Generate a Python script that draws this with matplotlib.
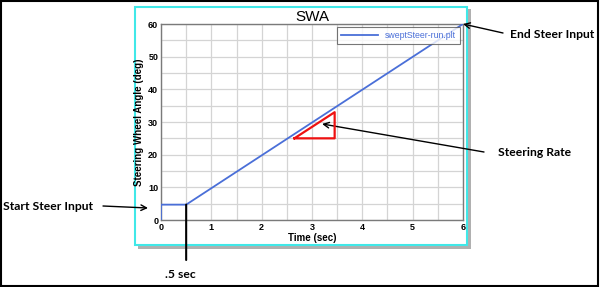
import matplotlib.pyplot as plt
from matplotlib.patches import Rectangle

# steering wheel angle trace
time_s = [0.0, 0.0, 0.5, 6.0]
swa_deg = [0.0, 4.7, 4.7, 60.0]

# steering rate triangle
tri_t = [2.65, 3.45, 3.45, 2.65]
tri_deg = [25.0, 25.0, 33.0, 25.0]

x_ticks = [0, 1, 2, 3, 4, 5, 6]
y_ticks = [0, 10, 20, 30, 40, 50, 60]

plt.rcParams['font.family'] = ['Liberation Sans', 'DejaVu Sans']

fig = plt.figure(figsize=(6.0, 2.87), dpi=100)
W, H = 600.0, 287.0

# outer frame, shadowed plot panel
fig.patches.append(Rectangle((0.002, 0.003), 0.995, 0.993, transform=fig.transFigure,
                             fill=False, ec='black', lw=1.5, zorder=-2))
fig.patches.append(Rectangle((138 / W, 1 - 249 / H), 333 / W, 240 / H, transform=fig.transFigure,
                             fc='#b0b0b0', ec='none', zorder=-2))
fig.patches.append(Rectangle((135 / W, 1 - 245 / H), 332 / W, 238 / H, transform=fig.transFigure,
                             fc='white', ec='#40e8e8', lw=1.5, zorder=-1))

ax = fig.add_axes([161 / W, 1 - 220 / H, 302 / W, 196 / H])
ax.plot(time_s, swa_deg, color='#4a6fd8', lw=1.3, label='sweptSteer-run.plt', zorder=3)
ax.plot(tri_t, tri_deg, color='#ee1111', lw=1.6, zorder=4)

ax.set_xlim(0, 6)
ax.set_ylim(0, 60)
ax.set_xticks(x_ticks)
ax.set_yticks(y_ticks)
ax.set_xticks([0.5 * i for i in range(13)], minor=True)
ax.set_yticks([5 * i for i in range(13)], minor=True)
ax.grid(True, which='both', color='#d4d4d4', lw=0.9)
ax.set_axisbelow(True)
ax.tick_params(which='both', length=0, pad=2)
for lab in ax.get_xticklabels() + ax.get_yticklabels():
    lab.set_fontsize(6.5)
    lab.set_fontweight('bold')
for s in ax.spines.values():
    s.set_color('#7a7a7a')
    s.set_linewidth(1.0)

ax.set_title('SWA', fontsize=11, pad=1.5)
ax.set_xlabel('Time (sec)', fontsize=7, fontweight='bold', labelpad=1)
ax.set_ylabel('Steering Wheel Angle (deg)', fontsize=7, fontweight='bold', labelpad=3)

leg = ax.legend(loc='upper right', fontsize=6.3, frameon=True, fancybox=False,
                handlelength=4.2, borderaxespad=0.3, borderpad=0.5)
leg.get_frame().set_edgecolor('#555555')
leg.get_frame().set_linewidth(0.8)
for t in leg.get_texts():
    t.set_color('#4a6fd8')

# callouts
note = dict(fontsize=8.7, fontweight='bold', family=['Lato', 'DejaVu Sans'], color='black')
arrow = dict(arrowstyle='->', color='black', lw=1.0, shrinkA=0, shrinkB=0)

fig.text(3 / W, 1 - 207 / H, 'Start Steer Input', va='center', ha='left', **note)
ax.annotate('', xy=(148 / W, 1 - 208 / H), xycoords='figure fraction',
            xytext=(103 / W, 1 - 206 / H), textcoords='figure fraction',
            arrowprops=arrow, annotation_clip=False)

fig.text(510 / W, 1 - 34 / H, 'End Steer Input', va='center', ha='left', **note)
ax.annotate('', xy=(6, 60), xycoords='data',
            xytext=(503 / W, 1 - 33 / H), textcoords='figure fraction',
            arrowprops=arrow, annotation_clip=False)

fig.text(498 / W, 1 - 152 / H, 'Steering Rate', va='center', ha='left', **note)
ax.annotate('', xy=(3.2, 29.4), xycoords='data',
            xytext=(484 / W, 1 - 152 / H), textcoords='figure fraction',
            arrowprops=arrow, annotation_clip=False)

fig.text(180 / W, 1 - 275 / H, '.5 sec', va='center', ha='center', **note)
ax.annotate('', xy=(0.5, 4.7), xycoords='data',
            xytext=(0.5, 1 - 260 / H), textcoords=('data', 'figure fraction'),
            arrowprops=dict(arrowstyle='-', color='black', lw=1.5, shrinkA=0, shrinkB=0),
            annotation_clip=False)

fig.savefig('out.png', dpi=100)
